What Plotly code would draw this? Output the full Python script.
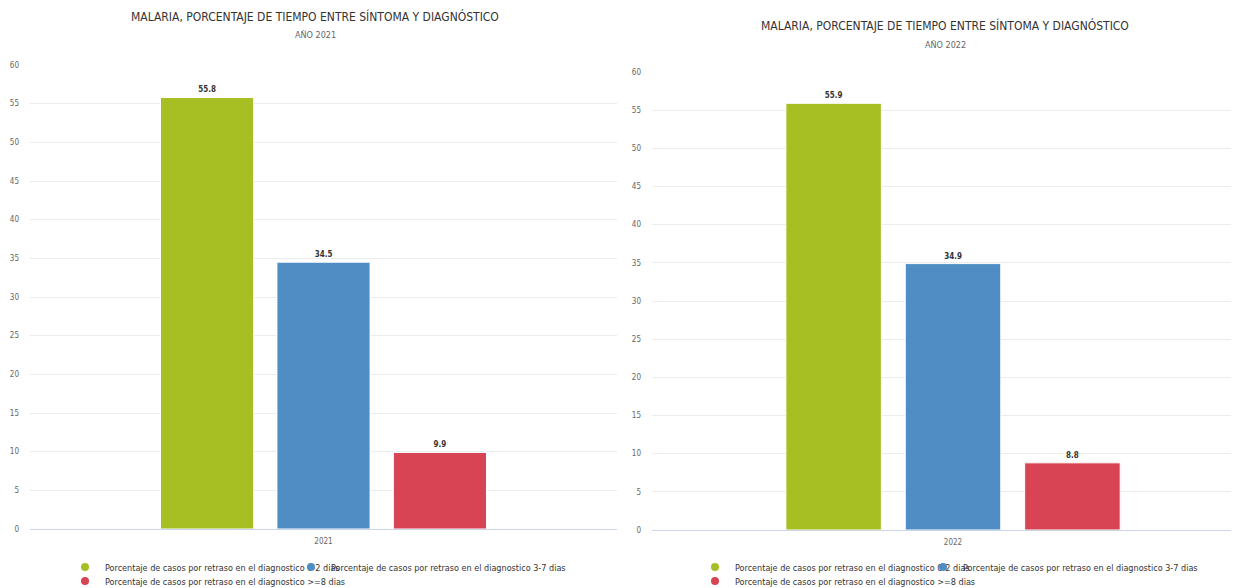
import plotly.graph_objects as go

# data
years = ["2021", "2022"]
series_names = [
    "Porcentaje de casos por retraso en el diagnostico 0-2 dias",
    "Porcentaje de casos por retraso en el diagnostico 3-7 dias",
    "Porcentaje de casos por retraso en el diagnostico >=8 dias",
]
values_2021 = [55.8, 34.5, 9.9]
values_2022 = [55.9, 34.9, 8.8]
colors = ["#a8bf23", "#508dc4", "#d84453"]

FONT = "DejaVu Sans Condensed, Liberation Sans Narrow, sans-serif"
# the page body has an 8px margin, so the figure is 8px smaller than the window
OFF = 8
FW, FH = 1239 - OFF, 588 - OFF


def px(sx):  # screen x -> paper x
    return (sx - OFF) / FW


def py(sy):  # screen y -> paper y
    return 1 - (sy - OFF) / FH


fig = go.Figure()

# one legend per entry so each can sit where the original puts it
# (text start x, row y) in screen pixels
legend_pos = {
    "legend": (105, 567), "legend2": (331, 567), "legend3": (105, 581),
    "legend4": (735, 567), "legend5": (963, 567), "legend6": (735, 581),
}
panels = [
    (years[0], values_2021, "x", "y", ["legend", "legend2", "legend3"]),
    (years[1], values_2022, "x2", "y2", ["legend4", "legend5", "legend6"]),
]
for year, vals, xa, ya, legs in panels:
    for name, v, c in zip(series_names, vals, colors):
        fig.add_trace(go.Bar(
            x=[year], y=[v], name=name, xaxis=xa, yaxis=ya,
            marker=dict(color=c, line=dict(color="white", width=1)),
            text=[f"{v:.1f}"], textposition="outside", cliponaxis=False,
            textfont=dict(size=8, color="#333333", family=FONT, weight="bold"),
            showlegend=False, hoverinfo="y+name",
        ))
    # round legend markers like the original
    for name, c, leg in zip(series_names, colors, legs):
        fig.add_trace(go.Scatter(
            x=[None], y=[None], name=name, mode="markers", xaxis=xa, yaxis=ya,
            marker=dict(color=c, size=8, symbol="circle"), legend=leg,
        ))

axis_common = dict(
    showgrid=False, showline=True, linecolor="#ccd6eb", linewidth=1,
    tickfont=dict(size=8, color="#666666", family=FONT), ticks="",
    ticklabelstandoff=4, fixedrange=True,
)
yaxis_common = dict(
    range=[0, 60], dtick=5, showgrid=True, gridcolor="#ececec", gridwidth=1,
    zeroline=False, showline=False, ticks="", ticklabelstandoff=10,
    tickfont=dict(size=8, color="#666666", family=FONT), fixedrange=True,
)
legend_layout = {}
for key, (tx, ty) in legend_pos.items():
    legend_layout[key] = dict(
        orientation="h", xanchor="left", yanchor="middle",
        x=px(tx - 40), y=py(ty),
        font=dict(size=9, color="#333333", family=FONT),
        bgcolor="rgba(0,0,0,0)",
    )

fig.update_layout(
    width=FW, height=FH,
    margin=dict(l=0, r=0, t=0, b=0, autoexpand=False),
    paper_bgcolor="white", plot_bgcolor="white",
    font=dict(family=FONT, color="#333333"),
    barmode="group", bargap=0.405, bargroupgap=0.2,
    xaxis=dict(axis_common, domain=[px(30), px(617)], range=[-0.5, 0.5], anchor="y"),
    yaxis=dict(yaxis_common, domain=[py(529), py(65)], anchor="x"),
    xaxis2=dict(axis_common, domain=[px(652), 1.0], range=[-0.5, 0.475], anchor="y2"),
    yaxis2=dict(yaxis_common, domain=[py(530), py(72)], anchor="x2"),
    **legend_layout,
)

titles = [(315, 17, 35, "AÑO 2021"), (945, 25, 45, "AÑO 2022")]
for cx, ty, sy, sub in titles:
    fig.add_annotation(
        x=px(cx), y=py(ty), xref="paper", yref="paper", showarrow=False,
        text="MALARIA, PORCENTAJE DE TIEMPO ENTRE SÍNTOMA Y DIAGNÓSTICO",
        font=dict(size=12, color="#333333", family=FONT),
        xanchor="center", yanchor="middle",
    )
    fig.add_annotation(
        x=px(cx), y=py(sy), xref="paper", yref="paper", showarrow=False,
        text=sub, font=dict(size=9, color="#666666", family=FONT),
        xanchor="center", yanchor="middle",
    )

fig.write_html("out.html")
